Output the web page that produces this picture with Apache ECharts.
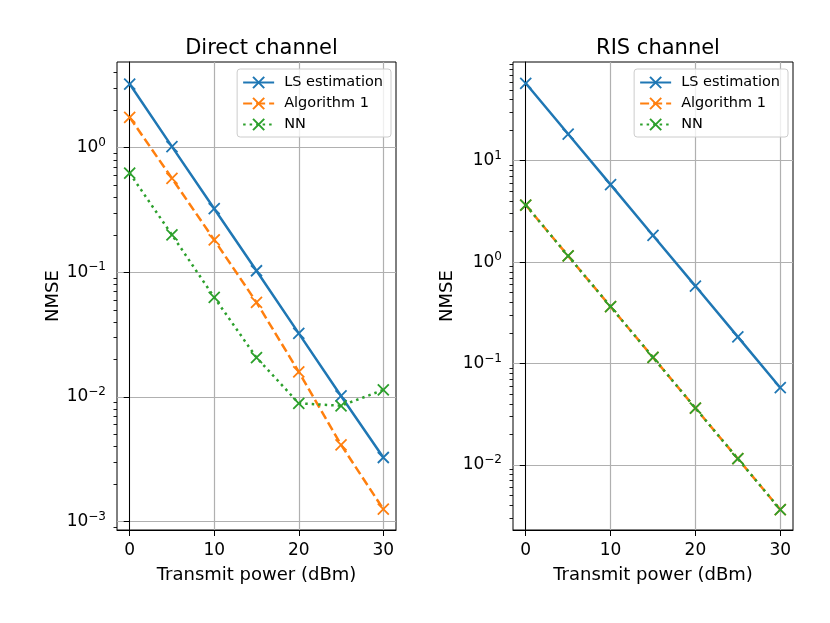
<!DOCTYPE html>
<html>
<head>
    <meta charset="utf-8">
    <title>NMSE vs transmit power</title>
    <script src="https://cdn.jsdelivr.net/npm/echarts@6/dist/echarts.min.js"></script>
    <style>
        html, body { margin: 0; padding: 0; background: #fff; }
        #chart { width: 830px; height: 623px; }
    </style>
</head>
<body>
    <div id="chart"></div>

    <script>
        // x values (dBm)
        var power = [0, 5, 10, 15, 20, 25, 30];

        // Direct channel NMSE
        var directLS  = [3.24, 1.02, 0.324, 0.103, 0.0324, 0.0102, 0.00327];
        var directAlg = [1.75, 0.568, 0.182, 0.0575, 0.0159, 0.00413, 0.00126];
        var directNN  = [0.624, 0.200, 0.063, 0.0207, 0.0089, 0.0085, 0.0114];

        // RIS channel NMSE
        var risLS  = [58, 18.3, 5.8, 1.83, 0.58, 0.183, 0.0577];
        var risAlg = [3.65, 1.15, 0.363, 0.115, 0.0363, 0.0115, 0.00363];
        var risNN  = [3.65, 1.15, 0.363, 0.115, 0.0363, 0.0115, 0.00363];

        var seriesNames = ['LS estimation', 'Algorithm 1', 'NN'];
        var titles = ['Direct channel', 'RIS channel'];
        var xTicks = [0, 10, 20, 30];
        var directYTicks = [0.001, 0.01, 0.1, 1];
        var risYTicks = [0.01, 0.1, 1, 10];

        var colors = ['#1f77b4', '#ff7f0e', '#2ca02c'];
        var lineTypes = ['solid', [9, 4], [2.5, 4]];
        var xMark = 'path://M0,0L10,10M10,0L0,10';
        var FONT = 'DejaVu Sans';

        function pairs(ys) {
            return power.map(function (x, i) { return [x, ys[i]]; });
        }

        // minor log ticks (2..9 per decade), decoration only
        function minorTicks(lo, hi) {
            var out = [];
            for (var e = lo; e <= hi; e++) {
                for (var m = 2; m <= 9; m++) out.push(+(m * Math.pow(10, e)).toPrecision(3));
            }
            return out;
        }

        function powLabel(v) {
            var e = Math.round(Math.log10(v));
            return '{b|10}{s|' + (e < 0 ? '\u2212' + (-e) : e) + '}';
        }

        var chart = echarts.init(document.getElementById('chart'));

        var grids = [
            { left: 117, top: 62, width: 279, height: 468 },
            { left: 513, top: 62, width: 280, height: 468 }
        ];
        var yRanges = [[8.57e-4, 4.87], [0.00228, 94]];
        var yTicks = [directYTicks, risYTicks];
        var nameGaps = [46, 57];

        var gridOpt = [], xAxes = [], yAxes = [], series = [], legends = [], titleOpt = [];

        grids.forEach(function (g, k) {
            gridOpt.push({
                left: g.left, top: g.top, width: g.width, height: g.height,
                show: true, borderColor: '#000', borderWidth: 1, backgroundColor: 'transparent'
            });
            xAxes.push({
                gridIndex: k, type: 'value', min: -1.5, max: 31.5,
                name: 'Transmit power (dBm)', nameLocation: 'middle', nameGap: 36,
                nameTextStyle: { fontFamily: FONT, fontSize: 18, color: '#000' },
                axisLine: { lineStyle: { color: '#000', width: 1 } },
                axisTick: { customValues: xTicks, length: 6, lineStyle: { color: '#000' } },
                axisLabel: { customValues: xTicks, margin: 12, fontFamily: FONT, fontSize: 17, color: '#000' },
                splitLine: { show: true, lineStyle: { color: '#b0b0b0', width: 1.2 } }
            });
            yAxes.push({
                gridIndex: k, type: 'log', min: yRanges[k][0], max: yRanges[k][1],
                name: 'NMSE', nameLocation: 'middle', nameGap: nameGaps[k],
                nameTextStyle: { fontFamily: FONT, fontSize: 18, color: '#000' },
                axisLine: { show: true, lineStyle: { color: '#000', width: 1 } },
                axisTick: { show: true, customValues: yTicks[k], length: 6, lineStyle: { color: '#000' } },
                axisLabel: {
                    customValues: yTicks[k], margin: 11, color: '#000',
                    formatter: powLabel,
                    rich: {
                        b: { fontFamily: FONT, fontSize: 17, color: '#000' },
                        s: { fontFamily: FONT, fontSize: 12, color: '#000', padding: [0, 0, 10, 0] }
                    }
                },
                splitLine: { show: true, lineStyle: { color: '#b0b0b0', width: 1.2 } }
            });
            titleOpt.push({
                text: titles[k], left: g.left + g.width / 2, top: 33, textAlign: 'center',
                textStyle: { fontFamily: FONT, fontSize: 21, fontWeight: 'normal', color: '#000' }
            });
            legends.push({
                orient: 'vertical', right: 830 - (g.left + g.width) + 5, top: 69,
                data: seriesNames, selectedMode: false,
                itemWidth: 31, itemHeight: 14, itemGap: 6,
                padding: [6, 8, 5, 5],
                backgroundColor: 'rgba(255,255,255,0.8)', borderColor: '#cccccc', borderWidth: 1, borderRadius: 3,
                textStyle: { fontFamily: FONT, fontSize: 14.5, color: '#000', padding: [0, 0, 0, 5] }
            });
        });

        // overlay grids carrying only the minor log ticks
        grids.forEach(function (g, k) {
            gridOpt.push({ left: g.left, top: g.top, width: g.width, height: g.height, show: false });
            xAxes.push({ gridIndex: k + 2, type: 'value', min: 0, max: 1, show: false });
            yAxes.push({
                gridIndex: k + 2, type: 'log', min: yRanges[k][0], max: yRanges[k][1],
                axisLine: { show: false },
                axisTick: { show: true, customValues: minorTicks(-4, 1), length: 3.5, lineStyle: { color: '#000', width: 0.9 } },
                axisLabel: { show: false },
                splitLine: { show: false }
            });
        });

        var panels = [[directLS, directAlg, directNN], [risLS, risAlg, risNN]];
        panels.forEach(function (sets, k) {
            sets.forEach(function (ys, i) {
                series.push({
                    name: seriesNames[i], type: 'line',
                    xAxisIndex: k, yAxisIndex: k,
                    data: pairs(ys),
                    symbol: xMark, symbolSize: 11, showAllSymbol: true,
                    lineStyle: { color: colors[i], width: 2.5, type: lineTypes[i] },
                    itemStyle: { color: colors[i], borderColor: colors[i], borderWidth: 1.8 },
                    emphasis: { disabled: true },
                    z: 2 + i
                });
            });
        });

        chart.setOption({
            animation: false,
            color: colors,
            title: titleOpt,
            legend: legends,
            grid: gridOpt,
            xAxis: xAxes,
            yAxis: yAxes,
            series: series
        });
    </script>
</body>
</html>
